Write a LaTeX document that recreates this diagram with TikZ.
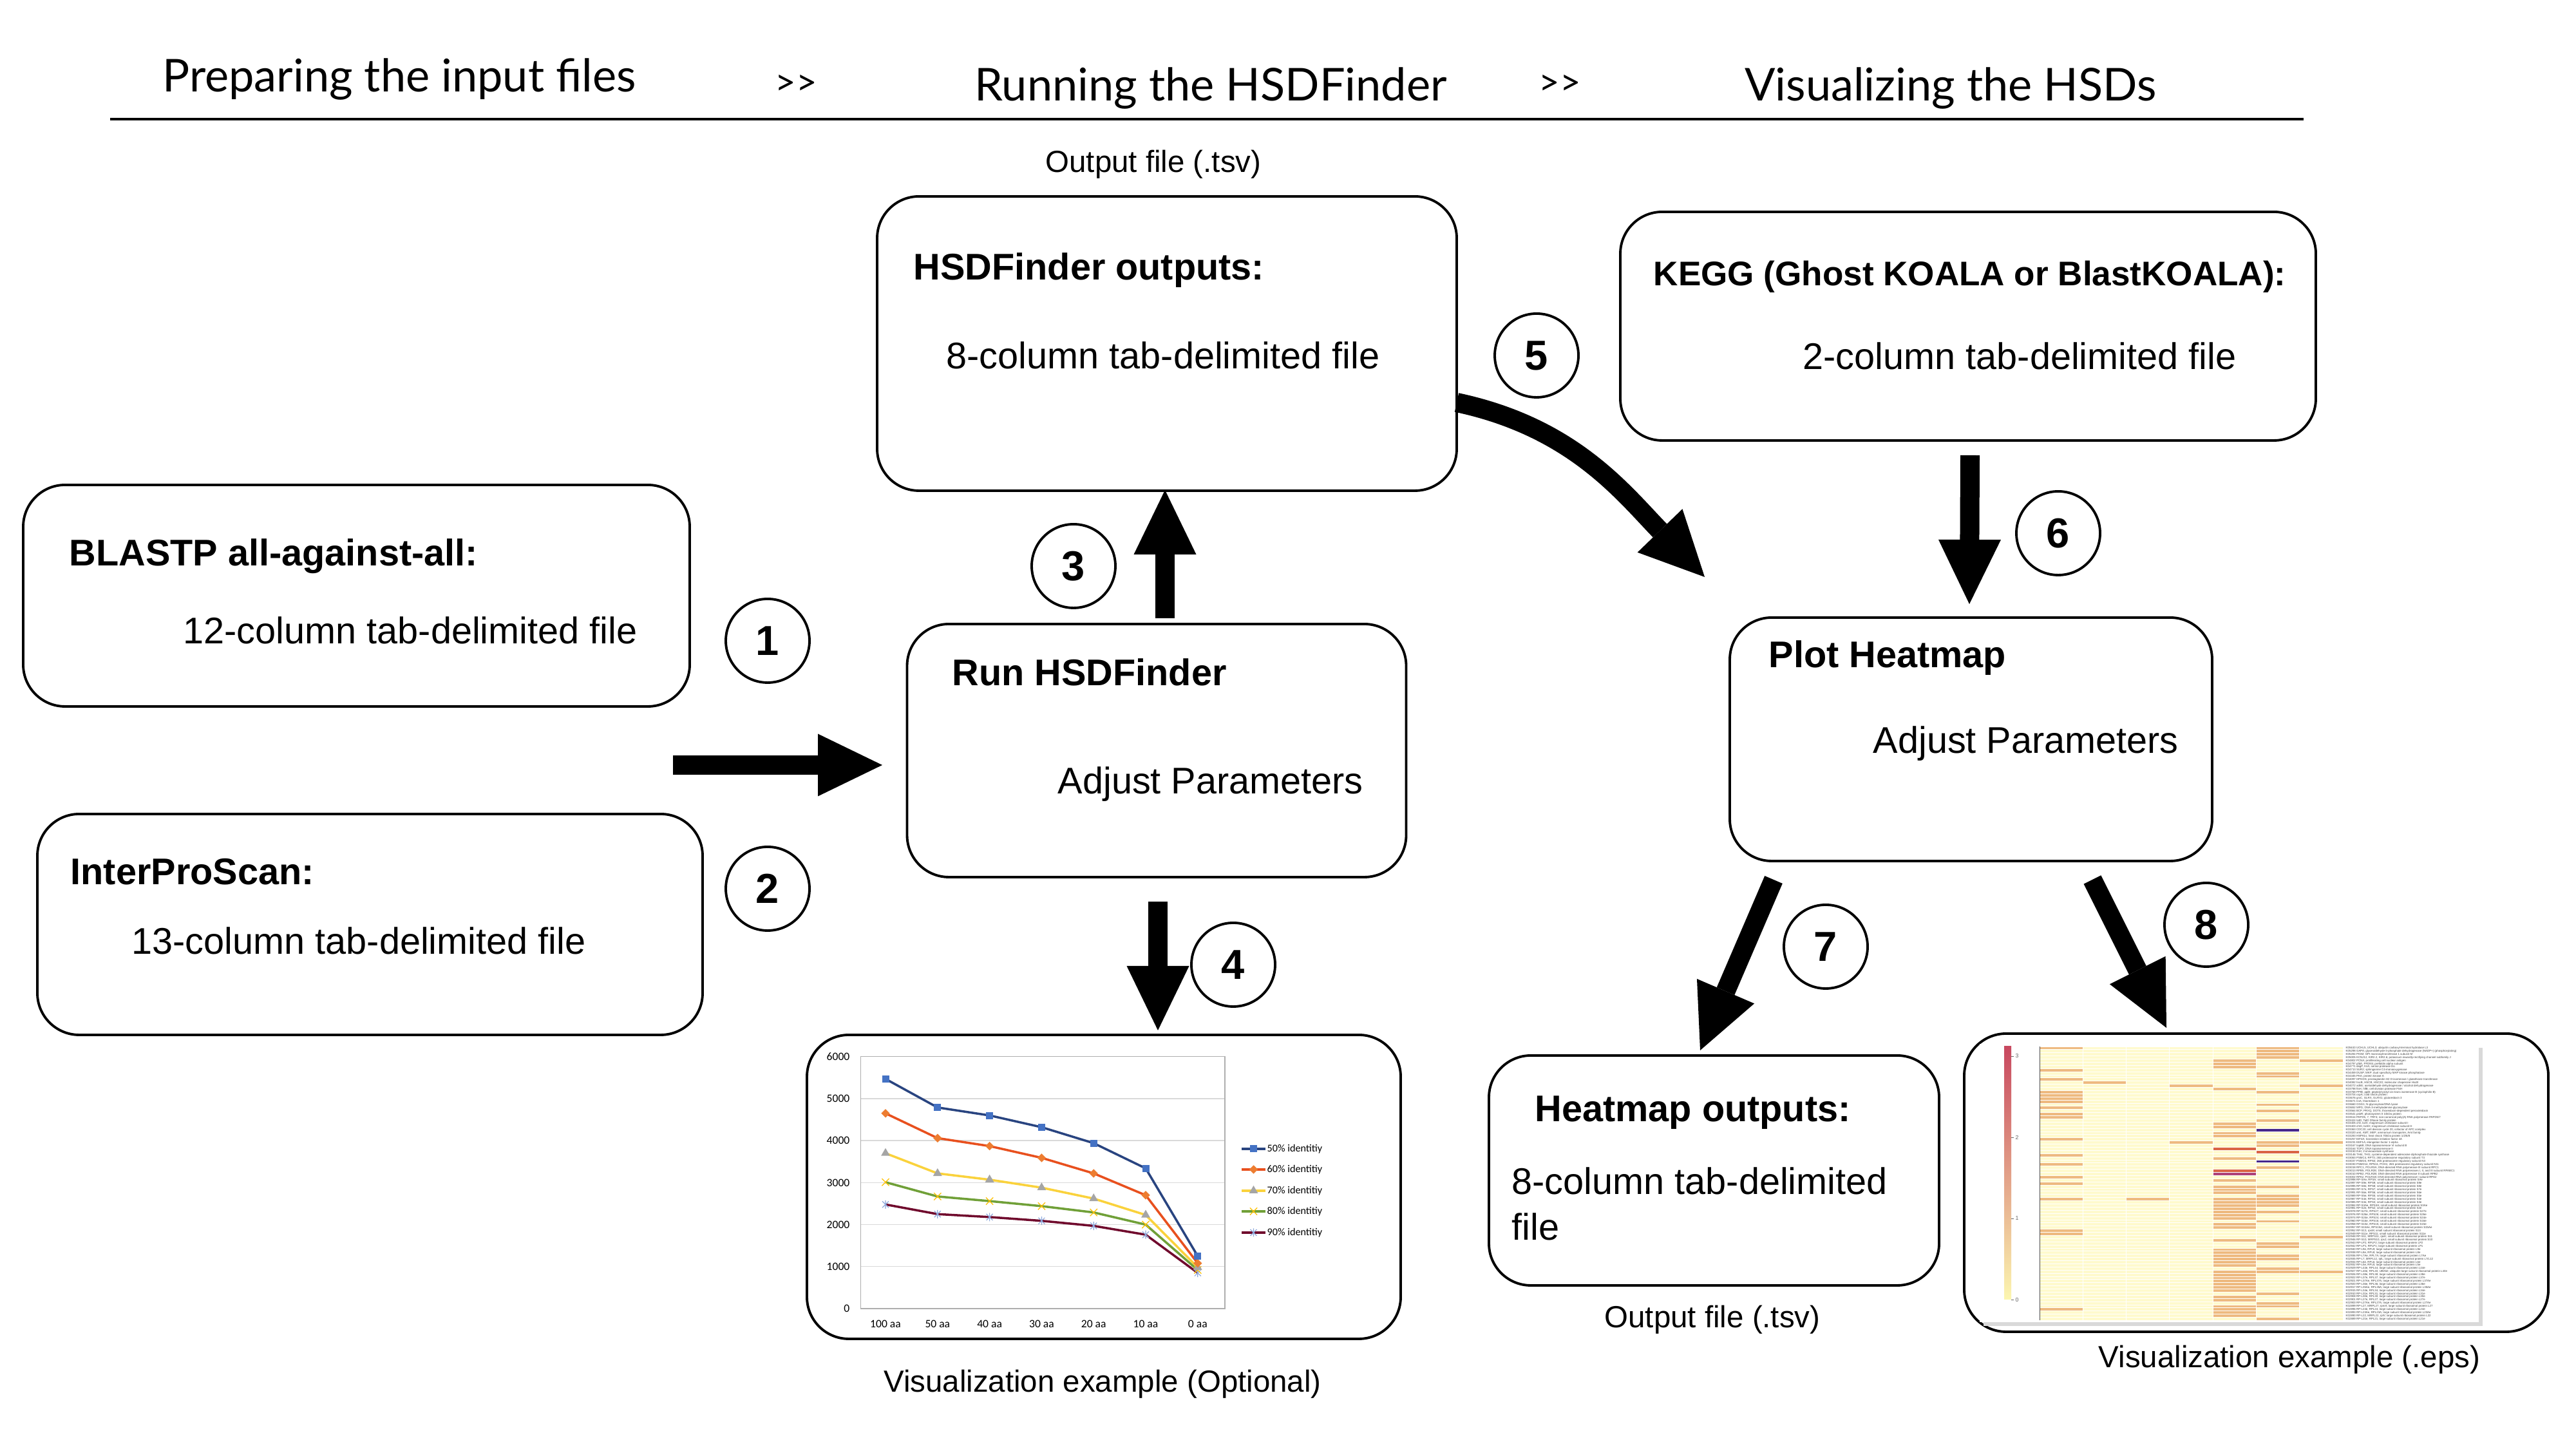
\documentclass[tikz,border=0pt]{standalone}
\usepackage{fontspec}
\setmainfont{Liberation Sans}
\newfontfamily\headfont{Lato}
\newfontfamily\xlfont{Carlito}
\usetikzlibrary{arrows.meta,shapes.geometric,shapes.misc}

\definecolor{hmbg}{RGB}{255,250,205}
\definecolor{hmor}{RGB}{238,186,128}
\definecolor{hmpu}{RGB}{70,40,140}
\definecolor{hmrd}{RGB}{218,100,70}
\definecolor{hmmg}{RGB}{175,65,120}
\definecolor{cbtop}{RGB}{200,72,95}
\definecolor{cbmid}{RGB}{226,140,95}
\definecolor{cbbot}{RGB}{252,246,176}
\definecolor{l50}{RGB}{41,68,128}
\definecolor{m50}{RGB}{68,114,196}
\definecolor{l60}{RGB}{232,80,30}
\definecolor{m60}{RGB}{237,125,49}
\definecolor{l70}{RGB}{250,210,60}
\definecolor{m70}{RGB}{165,165,165}
\definecolor{l80}{RGB}{112,160,56}
\definecolor{m80}{RGB}{255,192,0}
\definecolor{l90}{RGB}{112,10,45}
\definecolor{m90}{RGB}{143,170,220}
\definecolor{gridc}{RGB}{217,217,217}

\def\hmlabels{{K05610 UCHL5, UCHL3; ubiquitin carboxyl-terminal hydrolase L3},
{K05298 GAPA; glyceraldehyde-3-phosphate dehydrogenase (NADP+) (phosphorylating)},
{K05284 PIGM; GPI mannosyltransferase 1 subunit M},
{K05005 KCNJ12, KIR2.2, KIR2.6; potassium inwardly-rectifying channel subfamily J},
{K04802 PCNA; proliferating cell nuclear antigen},
{K04797 pfdA, PFDN5; prefoldin alpha subunit},
{K04771 degP, htrA; serine protease Do},
{K04713 SUR2; sphinganine C4-monooxygenase},
{K04459 DUSP, MKP; dual specificity MAP kinase phosphatase},
{K04345 PKA; protein kinase A},
{K04097 HPGDS; prostaglandin-H2 D-isomerase / glutathione transferase},
{K04082 hscB, HSCB, HSC20; molecular chaperone HscB},
{K04072 adhE; acetaldehyde dehydrogenase / alcohol dehydrogenase},
{K03798 ftsH, hflB; cell division protease FtsH},
{K03768 PPIB, ppiB; peptidyl-prolyl cis-trans isomerase B (cyclophilin B)},
{K03704 cspA; cold shock protein},
{K03676 grxC, GLRX, GLRX1; glutaredoxin 3},
{K03671 trxA; thioredoxin 1},
{K03660 OGG1; N-glycosylase/DNA lyase},
{K03652 MPG; DNA-3-methyladenine glycosylase},
{K03564 BCP, PRXQ, DOT5; thioredoxin-dependent peroxiredoxin},
{K03541 psbR; photosystem II 10kDa protein},
{K03514 PAPD5, 7, TRF4; non-canonical poly(A) RNA polymerase PAPD5/7},
{K03424 tatD; TatD DNase family protein},
{K03405 chlI, bchI; magnesium chelatase subunit I},
{K03403 chlH, bchH; magnesium chelatase subunit H},
{K03363 CDC20; cell division cycle 20, cofactor of APC complex},
{K03320 amt, AMT, MEP; ammonium transporter, Amt family},
{K03283 HSPA1s; heat shock 70kDa protein 1/2/6/8},
{K03257 EIF4A; translation initiation factor 4A},
{K03231 EEF1A; elongation factor 1-alpha},
{K03167 top6B; DNA topoisomerase VI subunit B},
{K03164 TOP2; DNA topoisomerase II},
{K03150 thiH; 2-iminoacetate synthase},
{K03146 THI4, THI1; cysteine-dependent adenosine diphosphate thiazole synthase},
{K03063 PSMC4, RPT3; 26S proteasome regulatory subunit T3},
{K03037 PSMD3, RPN3; 26S proteasome regulatory subunit N3},
{K03030 PSMD14, RPN11, POH1; 26S proteasome regulatory subunit N11},
{K03018 RPC1, POLR3A; DNA-directed RNA polymerase III subunit RPC1},
{K03013 RPB5, POLR2E; DNA-directed RNA polymerases I, II, and III subunit RPABC1},
{K03010 RPB2, POLR2B; DNA-directed RNA polymerase II subunit RPB2},
{K03002 RPA2, POLR1B; DNA-directed RNA polymerase I subunit RPA2},
{K02998 RP-SAe, RPSA; small subunit ribosomal protein SAe},
{K02997 RP-S9e, RPS9; small subunit ribosomal protein S9e},
{K02995 RP-S8e, RPS8; small subunit ribosomal protein S8e},
{K02993 RP-S7e, RPS7; small subunit ribosomal protein S7e},
{K02991 RP-S6e, RPS6; small subunit ribosomal protein S6e},
{K02989 RP-S5e, RPS5; small subunit ribosomal protein S5e},
{K02987 RP-S4e, RPS4; small subunit ribosomal protein S4e},
{K02985 RP-S3e, RPS3; small subunit ribosomal protein S3e},
{K02984 RP-S3Ae, RPS3A; small subunit ribosomal protein S3Ae},
{K02981 RP-S2e, RPS2; small subunit ribosomal protein S2e},
{K02978 RP-S27e, RPS27; small subunit ribosomal protein S27e},
{K02976 RP-S26e, RPS26; small subunit ribosomal protein S26e},
{K02974 RP-S24e, RPS24; small subunit ribosomal protein S24e},
{K02960 RP-S16e, RPS16; small subunit ribosomal protein S16e},
{K02958 RP-S15e, RPS15; small subunit ribosomal protein S15e},
{K02957 RP-S15Ae, RPS15A; small subunit ribosomal protein S15Ae},
{K02952 RP-S13, rpsM; small subunit ribosomal protein S13},
{K02949 RP-S11e, RPS11; small subunit ribosomal protein S11e},
{K02948 RP-S11, MRPS11, rpsK; small subunit ribosomal protein S11},
{K02946 RP-S10, MRPS10, rpsJ; small subunit ribosomal protein S10},
{K02943 RP-LP2, RPLP2; large subunit ribosomal protein LP2},
{K02942 RP-LP1, RPLP1; large subunit ribosomal protein LP1},
{K02940 RP-L9e, RPL9; large subunit ribosomal protein L9e},
{K02938 RP-L8e, RPL8; large subunit ribosomal protein L8e},
{K02936 RP-L7Ae, RPL7A; large subunit ribosomal protein L7Ae},
{K02935 RP-L7, MRPL12, rplL; large subunit ribosomal protein L7/L12},
{K02934 RP-L6e, RPL6; large subunit ribosomal protein L6e},
{K02932 RP-L5e, RPL5; large subunit ribosomal protein L5e},
{K02929 RP-L44e, RPL44; large subunit ribosomal protein L44e},
{K02927 RP-L40e, RPL40, UBA52; ubiquitin-large subunit ribosomal protein L40e},
{K02926 RP-L38e, RPL38; large subunit ribosomal protein L38e},
{K02922 RP-L37e, RPL37; large subunit ribosomal protein L37e},
{K02921 RP-L37Ae, RPL37A; large subunit ribosomal protein L37Ae},
{K02920 RP-L36e, RPL36; large subunit ribosomal protein L36e},
{K02917 RP-L35Ae, RPL35A; large subunit ribosomal protein L35Ae},
{K02915 RP-L34e, RPL34; large subunit ribosomal protein L34e},
{K02910 RP-L31e, RPL31; large subunit ribosomal protein L31e},
{K02908 RP-L30e, RPL30; large subunit ribosomal protein L30e},
{K02901 RP-L27e, RPL27; large subunit ribosomal protein L27e},
{K02900 RP-L27Ae, RPL27A; large subunit ribosomal protein L27Ae},
{K02899 RP-L27, MRPL27, rpmA; large subunit ribosomal protein L27},
{K02896 RP-L24e, RPL24; large subunit ribosomal protein L24e},
{K02893 RP-L23Ae, RPL23A; large subunit ribosomal protein L23Ae},
{K02890 RP-L22, MRPL22, rplV; large subunit ribosomal protein L22},
{K02889 RP-L21e, RPL21; large subunit ribosomal protein L21e}}

\tikzset{
  box/.style={draw, line width=1.1pt, rounded corners=0.65cm, inner sep=0},
  ttl/.style={anchor=base west, inner sep=0, font=\fontsize{16.4}{20}\selectfont\bfseries},
  sub/.style={anchor=base west, inner sep=0, font=\fontsize{16.4}{20}\selectfont},
  captxt/.style={anchor=base, inner sep=0, font=\fontsize{13.5}{16}\selectfont},
  num/.style={draw, circle, line width=1.1pt, minimum size=1.3cm, inner sep=0, font=\fontsize{18.5}{20}\selectfont\bfseries},
  bigarrow/.style={line width=0.3cm, -{Triangle[width=0.97cm,length=1cm,line width=0pt]}},
  phase/.style={anchor=base, inner sep=0, font=\headfont\fontsize{20}{24}\selectfont},
  xltick/.style={inner sep=0, font=\xlfont\fontsize{5}{6}\selectfont},
  xlleg/.style={anchor=west, inner sep=0, font=\xlfont\fontsize{4.6}{5}\selectfont},
  mkSq/.style={rectangle, fill=m50, minimum size=0.11cm, inner sep=0},
  mkDi/.style={diamond, fill=m60, minimum size=0.14cm, inner sep=0},
  mkTr/.style={regular polygon, regular polygon sides=3, fill=m70, minimum size=0.16cm, inner sep=0},
  mkX/.style={cross out, draw=m80, minimum size=0.1cm, inner sep=0, line width=0.35pt},
  mkAst/.pic={\draw[m90, line width=0.35pt] (-0.05cm,-0.05cm) -- (0.05cm,0.05cm) (-0.05cm,0.05cm) -- (0.05cm,-0.05cm) (0,-0.065cm) -- (0,0.065cm);},
  hmlab/.style={anchor=west, inner sep=0, text=black!75, font=\fontsize{1.25}{1.5}\selectfont},
}

\begin{document}
\begin{tikzpicture}
	\useasboundingbox (0,0) rectangle (40,22.5);

	%%% phases
	\node[phase] (ph1) at (6.20,21.07) {Preparing the input files};
	\node[phase, font=\headfont\fontsize{16}{18}\selectfont] (gt1) at (12.36,21.02) {>>};
	\node[phase] (ph2) at (18.80,20.93) {Running the HSDFinder};
	\node[phase, font=\headfont\fontsize{16}{18}\selectfont] (gt2) at (24.22,21.02) {>>};
	\node[phase] (ph3) at (30.29,20.93) {Visualizing the HSDs};
	\draw[line width=1.35pt] (1.71,20.65) -- (35.77,20.65);

	%%% boxes
	\node[box, minimum width=10.35cm, minimum height=3.44cm] (blastp) at (5.535,13.25) {};
	\node[box, minimum width=10.33cm, minimum height=3.43cm] (interpro) at (5.745,8.145) {};
	\node[box, minimum width=9.0cm, minimum height=4.57cm] (hsdout) at (18.12,17.165) {};
	\node[box, minimum width=7.75cm, minimum height=3.93cm] (run) at (17.96,10.845) {};
	\node[box, minimum width=10.8cm, minimum height=3.55cm] (kegg) at (30.56,17.435) {};
	\node[box, minimum width=7.49cm, minimum height=3.78cm] (plot) at (30.605,11.02) {};
	\node[box, minimum width=6.99cm, minimum height=3.57cm] (heatout) at (26.615,4.325) {};
	\node[box, minimum width=9.22cm, minimum height=4.72cm] (chart) at (17.14,4.07) {};
	\node[box, minimum width=9.07cm, minimum height=4.63cm] (heatimg) at (35.035,4.135) {};

	%%% box texts
	\node[ttl] (blastpT) at (1.07,13.71) {BLASTP all-against-all:};
	\node[sub] (blastpS) at (2.84,12.50) {12-column tab-delimited file};
	\node[ttl] (interproT) at (1.09,8.76) {InterProScan:};
	\node[sub] (interproS) at (2.04,7.68) {13-column tab-delimited file};
	\node[ttl] (hsdoutT) at (14.18,18.15) {HSDFinder outputs:};
	\node[sub] (hsdoutS) at (14.69,16.77) {8-column tab-delimited file};
	\node[ttl] (runT) at (14.78,11.85) {Run HSDFinder};
	\node[sub] (runS) at (16.42,10.17) {Adjust Parameters};
	\node[ttl, font=\fontsize{15.1}{18}\selectfont\bfseries] (keggT) at (25.67,18.06) {KEGG (Ghost KOALA or BlastKOALA):};
	\node[sub] (keggS) at (27.99,16.76) {2-column tab-delimited file};
	\node[ttl] (plotT) at (27.46,12.13) {Plot Heatmap};
	\node[sub] (plotS) at (29.08,10.80) {Adjust Parameters};
	\node[ttl] (heatoutT) at (23.83,5.08) {Heatmap outputs:};
	\node[sub] (heatoutS) at (23.47,3.95) {8-column tab-delimited};
	\node[sub] (heatoutS2) at (23.47,3.24) {file};

	%%% captions
	\node[captxt] (capTop) at (17.91,19.82) {Output file (.tsv)};
	\node[captxt] (capHeat) at (26.59,1.88) {Output file (.tsv)};
	\node[captxt] (capChart) at (17.12,0.88) {Visualization example (Optional)};
	\node[captxt] (capImg) at (35.55,1.26) {Visualization example (.eps)};

	%%% step numbers
	\node[num] (n1) at (11.92,12.55) {1};
	\node[num] (n2) at (11.92,8.70) {2};
	\node[num] (n3) at (16.67,13.71) {3};
	\node[num] (n4) at (19.15,7.52) {4};
	\node[num] (n5) at (23.86,16.98) {5};
	\node[num] (n6) at (31.96,14.22) {6};
	\node[num] (n7) at (28.35,7.80) {7};
	\node[num] (n8) at (34.26,8.14) {8};

	%%% arrows
	\coordinate (a1s) at (10.45,10.62);
	\coordinate (a1e) at (13.70,10.62);
	\coordinate (a3s) at (18.09,12.90);
	\coordinate (a3e) at (18.09,14.89);
	\coordinate (a4s) at (17.98,8.50);
	\coordinate (a4e) at (17.98,6.50);
	\coordinate (a5s) at (22.62,16.25);
	\coordinate (a5e) at (26.47,13.54);
	\coordinate (a6s) at (30.59,15.43);
	\coordinate (a6e) at (30.58,13.12);
	\coordinate (a7s) at (27.54,8.84);
	\coordinate (a7e) at (26.40,6.19);
	\coordinate (a8s) at (32.49,8.84);
	\coordinate (a8e) at (33.64,6.54);
	\draw[bigarrow] (a1s) -- (a1e);
	\draw[bigarrow] (a3s) -- (a3e);
	\draw[bigarrow] (a4s) -- (a4e);
	\draw[bigarrow] (a5s) to[out=-12,in=134] (a5e);
	\draw[bigarrow] (a6s) -- (a6e);
	\draw[bigarrow] (a7s) -- (a7e);
	\draw[bigarrow] (a8s) -- (a8e);

	%%% line chart
	\begin{scope}[shift={(13.75,2.18)}, x=0.808cm, y=0.652cm]
		\foreach \v in {1,...,6}
			\draw[gridc, line width=0.4pt] (-0.48,\v) -- (6.52,\v);
		\draw[gridc!80!black, line width=0.4pt] (-0.48,0) rectangle (6.52,6);
		\foreach \v/\t in {0/0,1/1000,2/2000,3/3000,4/4000,5/5000,6/6000}
			\node[xltick, anchor=east] (yl\v) at (-0.68,\v) {\t};
		\foreach \t [count=\i from 0] in {100 aa,50 aa,40 aa,30 aa,20 aa,10 aa,0 aa}
			\node[xltick] (xl\i) at (\i,-0.37) {\t};
		\draw[l90, line width=1pt] (0,2.48) -- (1,2.25) -- (2,2.18) -- (3,2.09) -- (4,1.97) -- (5,1.76) -- (6,0.85);
		\draw[l80, line width=1pt] (0,3.01) -- (1,2.67) -- (2,2.56) -- (3,2.44) -- (4,2.29) -- (5,2.00) -- (6,0.92);
		\draw[l70, line width=1pt] (0,3.70) -- (1,3.22) -- (2,3.07) -- (3,2.88) -- (4,2.62) -- (5,2.23) -- (6,0.98);
		\draw[l60, line width=1pt] (0,4.65) -- (1,4.06) -- (2,3.87) -- (3,3.59) -- (4,3.22) -- (5,2.70) -- (6,1.08);
		\draw[l50, line width=1pt] (0,5.47) -- (1,4.79) -- (2,4.60) -- (3,4.32) -- (4,3.94) -- (5,3.34) -- (6,1.25);
		\foreach \p in {(0,2.48),(1,2.25),(2,2.18),(3,2.09),(4,1.97),(5,1.76),(6,0.85)}
			\pic at \p {mkAst};
		\foreach \p in {(0,3.01),(1,2.67),(2,2.56),(3,2.44),(4,2.29),(5,2.00),(6,0.92)}
			\node[mkX] at \p {};
		\foreach \p in {(0,3.70),(1,3.22),(2,3.07),(3,2.88),(4,2.62),(5,2.23),(6,0.98)}
			\node[mkTr] at \p {};
		\foreach \p in {(0,4.65),(1,4.06),(2,3.87),(3,3.59),(4,3.22),(5,2.70),(6,1.08)}
			\node[mkDi] at \p {};
		\foreach \p in {(0,5.47),(1,4.79),(2,4.60),(3,4.32),(4,3.94),(5,3.34),(6,1.25)}
			\node[mkSq] at \p {};
	\end{scope}

	%%% chart legend
	\draw[l50, line width=1pt] (19.28,4.66) -- (19.65,4.66);
	\node[mkSq] at (19.465,4.66) {};
	\node[xlleg] (lg50) at (19.67,4.66) {50\% identitiy};
	\draw[l60, line width=1pt] (19.28,4.34) -- (19.65,4.34);
	\node[mkDi] at (19.465,4.34) {};
	\node[xlleg] (lg60) at (19.67,4.34) {60\% identitiy};
	\draw[l70, line width=1pt] (19.28,4.01) -- (19.65,4.01);
	\node[mkTr] at (19.465,4.01) {};
	\node[xlleg] (lg70) at (19.67,4.01) {70\% identitiy};
	\draw[l80, line width=1pt] (19.28,3.69) -- (19.65,3.69);
	\node[mkX] at (19.465,3.69) {};
	\node[xlleg] (lg80) at (19.67,3.69) {80\% identitiy};
	\draw[l90, line width=1pt] (19.28,3.36) -- (19.65,3.36);
	\pic at (19.465,3.36) {mkAst};
	\node[xlleg] (lg90) at (19.67,3.36) {90\% identitiy};

	%%% heatmap picture
	\fill[black!15] (30.80,1.91) rectangle (38.55,6.23);
	\fill[white] (30.74,1.97) rectangle (38.49,6.29);
	\shade[top color=cbtop, middle color=cbmid, bottom color=cbbot] (31.12,2.32) rectangle (31.23,6.25);
	\foreach \v/\y in {3/6.10,2/4.84,1/3.58,0/2.32} {
		\draw[black!60, line width=0.2pt] (31.23,\y) -- (31.27,\y);
		\node[anchor=west, inner sep=0, text=black!60, font=\fontsize{2.5}{3}\selectfont] (cb\v) at (31.29,\y) {\v};
	}
	\fill[hmbg] (31.67,1.996) rectangle (36.38,6.25);
	\foreach \rw/\cl in {0/1,0/6,1/6,2/6,3/6,4/5,4/7,5/5,6/5,7/1,8/6,9/6,10/1,11/2,12/4,12/7,13/5,14/1,14/6,15/1,16/1,17/1,18/6,19/1,20/6,21/1,22/1,23/6,24/5,25/5,27/5,28/5,29/1,30/4,30/6,30/7,31/6,34/1,34/7,35/5,37/1,38/6,41/1,42/5,43/1,44/5,44/6,45/5,46/5,47/6,48/1,48/3,48/5,48/6,49/5,49/6,50/5,50/6,51/5,52/5,52/6,53/5,54/5,55/6,56/5,57/5,58/1,59/1,60/7,61/5,62/6,63/6,64/5,65/5,66/5,66/6,67/5,67/6,68/5,69/5,70/6,71/5,71/6,71/7,72/5,73/5,74/5,75/5,76/5,77/5,78/6,79/5,80/5,81/6,82/5,82/6,83/1,83/5,84/5,85/5,86/6}
		\fill[hmor] ({31.67+(\cl-1)*0.673},{6.25-\rw*0.0489}) rectangle ({31.67+\cl*0.673},{6.25-(\rw+1)*0.0489});
	\foreach \rw/\cl/\cc in {26/6/hmpu,36/6/hmpu,32/5/hmrd,33/6/hmrd,39/5/hmrd,40/5/hmmg}
		\fill[\cc] ({31.67+(\cl-1)*0.673},{6.25-\rw*0.0489}) rectangle ({31.67+\cl*0.673},{6.25-(\rw+1)*0.0489});
	\foreach \rw in {0,...,87}
		\draw[white, line width=0.25pt] (31.67,{6.25-\rw*0.0489}) -- (36.38,{6.25-\rw*0.0489});
	\foreach \cl in {1,...,6}
		\draw[white, line width=0.25pt] ({31.67+\cl*0.673},1.996) -- ({31.67+\cl*0.673},6.25);
	\draw[black!70, line width=0.3pt] (31.67,1.996) -- (31.67,6.25);
	\foreach \lbl [count=\i from 0] in \hmlabels
		\node[hmlab] (lab\i) at (36.42,{6.25-(\i+0.5)*0.0489}) {\lbl};

\end{tikzpicture}
\end{document}
